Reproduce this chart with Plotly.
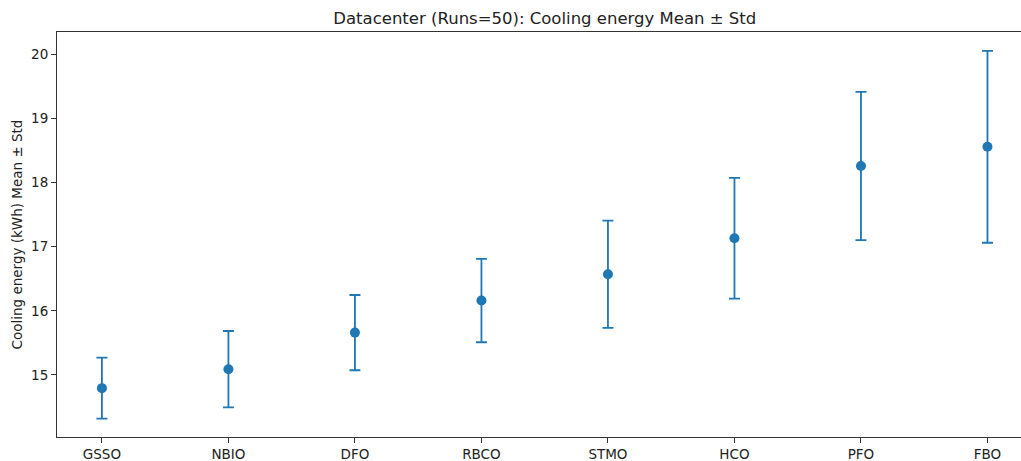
import plotly.graph_objects as go

# Cooling energy per optimizer over 50 runs
optimizers = ["GSSO", "NBIO", "DFO", "RBCO", "STMO", "HCO", "PFO", "FBO"]
mean_kwh = [14.795, 15.09, 15.66, 16.16, 16.57, 17.13, 18.255, 18.555]
std_kwh = [0.475, 0.595, 0.586, 0.65, 0.835, 0.94, 1.155, 1.495]
y_ticks = [15, 16, 17, 18, 19, 20]

BLUE = "#1f77b4"
FONT = "DejaVu Sans"
INK = "#222222"

fig = go.Figure(
    go.Scatter(
        x=list(range(len(optimizers))),
        y=mean_kwh,
        mode="markers",
        marker=dict(color=BLUE, size=10),
        error_y=dict(type="data", array=std_kwh, visible=True,
                     color=BLUE, thickness=1.8, width=5.5),
        showlegend=False,
    )
)

fig.update_layout(
    width=1021,
    height=461,
    margin=dict(l=57, r=0, t=32, b=24),
    plot_bgcolor="white",
    paper_bgcolor="white",
    font=dict(family=FONT, size=14, color=INK),
    title=dict(
        text="Datacenter (Runs=50): Cooling energy Mean ± Std",
        x=0.506, xanchor="center", xref="paper",
        y=1 - 18 / 461, yanchor="middle",
        font=dict(family=FONT, size=16.5, color=INK),
    ),
    xaxis=dict(
        range=[-0.355, 7.265],
        tickmode="array",
        tickvals=list(range(len(optimizers))),
        ticktext=optimizers,
        showgrid=False,
        zeroline=False,
        showline=True, mirror=True, linecolor="#333333", linewidth=1.1,
        ticks="outside", ticklen=5, tickcolor="#333333",
        tickfont=dict(family=FONT, size=13.5, color=INK),
    ),
    yaxis=dict(
        range=[14.034, 20.343],
        tickmode="array",
        tickvals=y_ticks,
        ticktext=[str(v) for v in y_ticks],
        showgrid=False,
        zeroline=False,
        showline=True, linecolor="#333333", linewidth=1.1,
        ticks="outside", ticklen=5, tickcolor="#333333",
        tickfont=dict(family=FONT, size=13.5, color=INK),
        title=dict(text="Cooling energy (kWh) Mean ± Std",
                   font=dict(family=FONT, size=13.5, color=INK),
                   standoff=5),
    ),
)

fig.write_html("out.html")
